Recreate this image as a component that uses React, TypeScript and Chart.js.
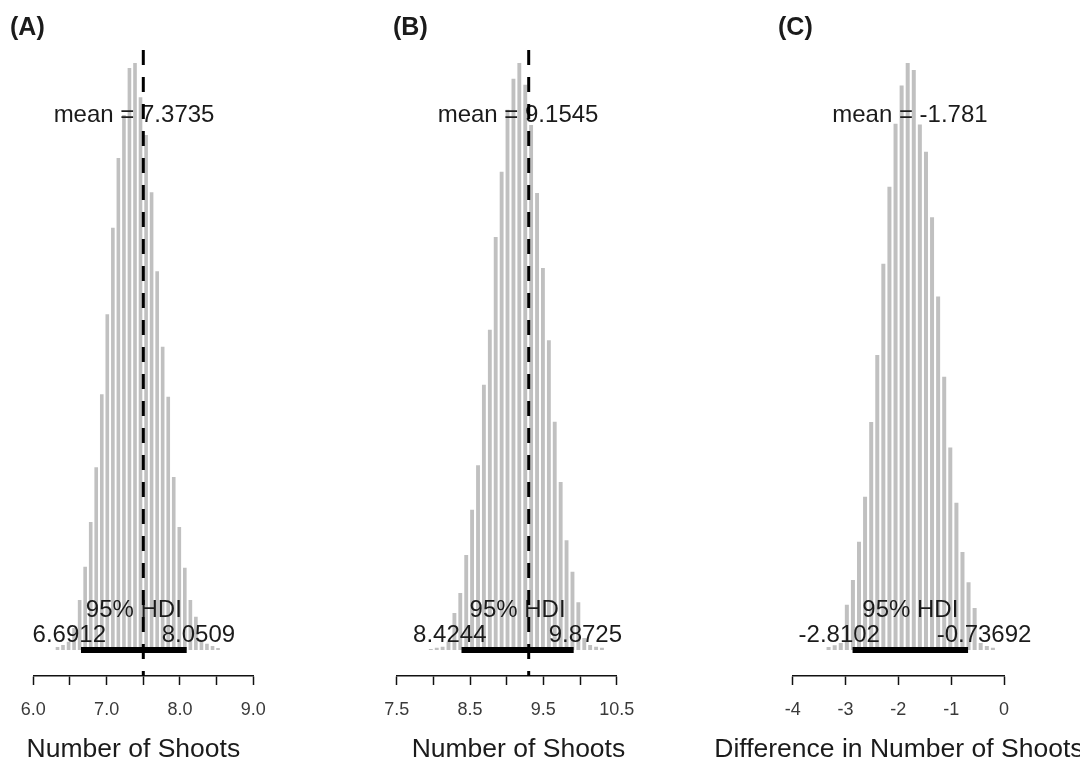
import { useEffect, useRef } from 'react';
import { Chart, registerables } from 'chart.js';

Chart.register(...registerables);

// ---- Posterior of the number of shoots, group A ----
const binsA = [6.330, 6.405, 6.481, 6.556, 6.632, 6.707, 6.783, 6.858, 6.934, 7.009, 7.085, 7.160, 7.236, 7.311, 7.387, 7.462, 7.538, 7.613, 7.689, 7.764, 7.840, 7.915, 7.991, 8.066, 8.142, 8.217, 8.293, 8.368, 8.444, 8.519];
const densityA = [0.006, 0.010, 0.016, 0.043, 0.098, 0.163, 0.251, 0.358, 0.501, 0.658, 0.827, 0.964, 1.048, 1.140, 1.150, 1.083, 1.009, 0.897, 0.742, 0.594, 0.496, 0.339, 0.241, 0.161, 0.098, 0.065, 0.020, 0.012, 0.008, 0.004];
const meanA = 7.3735;
const hdiA = [6.6912, 8.0509];
const refLineA = 7.5;
const tickValuesA = [6.0, 6.5, 7.0, 7.5, 8.0, 8.5, 9.0];
const tickLabelsA = ['6.0', '', '7.0', '', '8.0', '', '9.0'];

// ---- Posterior of the number of shoots, group B ----
const binsB = [7.965, 8.046, 8.126, 8.206, 8.287, 8.367, 8.448, 8.528, 8.609, 8.689, 8.770, 8.850, 8.931, 9.011, 9.092, 9.172, 9.253, 9.333, 9.414, 9.494, 9.575, 9.655, 9.736, 9.816, 9.897, 9.977, 10.058, 10.138, 10.219, 10.299];
const densityB = [0.002, 0.004, 0.006, 0.015, 0.068, 0.105, 0.175, 0.258, 0.340, 0.488, 0.589, 0.760, 0.880, 0.994, 1.051, 1.080, 1.040, 0.966, 0.841, 0.703, 0.570, 0.420, 0.309, 0.202, 0.144, 0.088, 0.022, 0.009, 0.006, 0.004];
const meanB = 9.1545;
const hdiB = [8.4244, 9.8725];
const refLineB = 9.3;
const tickValuesB = [7.5, 8.0, 8.5, 9.0, 9.5, 10.0, 10.5];
const tickLabelsB = ['7.5', '', '8.5', '', '9.5', '', '10.5'];

// ---- Posterior of the difference A - B ----
const binsC = [-3.321, -3.205, -3.090, -2.975, -2.860, -2.745, -2.630, -2.514, -2.399, -2.284, -2.169, -2.053, -1.938, -1.823, -1.708, -1.593, -1.477, -1.362, -1.247, -1.132, -1.017, -0.901, -0.786, -0.671, -0.556, -0.441, -0.325, -0.210];
const densityC = [0.004, 0.006, 0.009, 0.058, 0.090, 0.139, 0.197, 0.293, 0.379, 0.496, 0.595, 0.676, 0.725, 0.754, 0.745, 0.675, 0.640, 0.556, 0.454, 0.351, 0.260, 0.189, 0.126, 0.087, 0.054, 0.009, 0.005, 0.003];
const meanC = -1.781;
const hdiC = [-2.8102, -0.73692];
const tickValuesC = [-4, -3, -2, -1, 0];
const tickLabelsC = ['-4', '-3', '-2', '-1', '0'];

const FONT = '"Liberation Sans", Arial, Helvetica, sans-serif';
const TEXT = '#1b1b1b';
const BAR = 'rgb(192,192,192)';

type Panel = {
  letter: string;
  xTitle: string;
  bins: number[];
  density: number[];
  mean: number;
  hdi: number[];
  refLine: number | null;
  tickValues: number[];
  tickLabels: string[];
  // layout
  left: number;
  width: number;
  axisLeft: number;
  axisRight: number;
  letterX: number;
  titleAt: number;
};

const panels: Panel[] = [
  {
    letter: '(A)', xTitle: 'Number of Shoots', bins: binsA, density: densityA, mean: meanA, hdi: hdiA,
    refLine: refLineA, tickValues: tickValuesA, tickLabels: tickLabelsA,
    left: 0, width: 360, axisLeft: 33.3, axisRight: 253.3, letterX: 10, titleAt: 7.365,
  },
  {
    letter: '(B)', xTitle: 'Number of Shoots', bins: binsB, density: densityB, mean: meanB, hdi: hdiB,
    refLine: refLineB, tickValues: tickValuesB, tickLabels: tickLabelsB,
    left: 360, width: 340, axisLeft: 396.7, axisRight: 616.7, letterX: 393, titleAt: 9.16,
  },
  {
    letter: '(C)', xTitle: 'Difference in Number of Shoots', bins: binsC, density: densityC, mean: meanC, hdi: hdiC,
    refLine: null, tickValues: tickValuesC, tickLabels: tickLabelsC,
    left: 700, width: 400, axisLeft: 792.7, axisRight: 1004, letterX: 778, titleAt: -1.99,
  },
];

const HEIGHT = 764;
const PLOT_TOP = 50;
const AXIS_Y = 676;

function HistPanel({ p }: { p: Panel }) {
  const ref = useRef<HTMLCanvasElement | null>(null);

  useEffect(() => {
    const canvas = ref.current;
    if (!canvas) return;
    const peak = Math.max(...p.density);
    // baseline sits 26px above the axis line, tallest bar reaches 13px below the plot top
    const pxPerUnit = 587 / peak;
    const yMax = (650 - PLOT_TOP) / pxPerUnit;
    const yMin = -(AXIS_Y - 650) / pxPerUnit;
    const xMin = p.tickValues[0];
    const xMax = p.tickValues[p.tickValues.length - 1];

    const datasets: any[] = [
      {
        type: 'bar',
        data: p.bins.map((b, i) => ({ x: b, y: p.density[i] })),
        backgroundColor: BAR,
        borderWidth: 0,
        barPercentage: 0.66,
        categoryPercentage: 1,
        order: 3,
      },
      {
        type: 'line',
        data: [{ x: p.hdi[0], y: 0 }, { x: p.hdi[1], y: 0 }],
        borderColor: '#000',
        borderWidth: 6,
        borderCapStyle: 'square',
        pointRadius: 0,
        order: 2,
      },
    ];
    if (p.refLine !== null) {
      datasets.push({
        type: 'line',
        data: [{ x: p.refLine, y: yMax }, { x: p.refLine, y: yMin }],
        borderColor: '#000',
        borderWidth: 3,
        borderDash: [15, 12],
        borderCapStyle: 'butt',
        pointRadius: 0,
        order: 1,
      });
    }

    const annotate = {
      id: 'annotate',
      afterDatasetDraw(chart: any, args: any) {
        if (args.index !== 0) return;
        const { ctx } = chart;
        const xs = chart.scales.x;
        const ys = chart.scales.y;
        const y0 = ys.getPixelForValue(0);
        ctx.save();
        ctx.fillStyle = TEXT;
        ctx.font = `24px ${FONT}`;
        ctx.textBaseline = 'alphabetic';
        ctx.textAlign = 'center';
        ctx.fillText(`mean = ${p.mean}`, xs.getPixelForValue(p.mean), ys.getPixelForValue(0.9 * peak));
        ctx.fillText('95% HDI', xs.getPixelForValue((p.hdi[0] + p.hdi[1]) / 2), y0 - 33);
        ctx.textAlign = 'left';
        const lo = String(p.hdi[0]);
        const hi = String(p.hdi[1]);
        const wLo = ctx.measureText(lo).width;
        const wHi = ctx.measureText(hi).width;
        ctx.fillText(lo, xs.getPixelForValue(p.hdi[0]) - 0.7 * wLo, y0 - 8);
        ctx.fillText(hi, xs.getPixelForValue(p.hdi[1]) - 0.3 * wHi, y0 - 8);
        ctx.restore();
      },
      afterDraw(chart: any) {
        const { ctx } = chart;
        const xs = chart.scales.x;
        ctx.save();
        ctx.fillStyle = TEXT;
        ctx.textBaseline = 'alphabetic';
        ctx.font = `bold 25px ${FONT}`;
        ctx.textAlign = 'left';
        ctx.fillText(p.letter, p.letterX - p.left, 35);
        ctx.font = `26.5px ${FONT}`;
        ctx.textAlign = 'center';
        ctx.fillText(p.xTitle, xs.getPixelForValue(p.titleAt), 757);
        ctx.restore();
      },
    };

    const chart = new Chart(canvas, {
      type: 'bar',
      data: { datasets },
      options: {
        animation: false,
        responsive: false,
        events: [],
        layout: {
          padding: {
            left: p.axisLeft - p.left,
            right: p.left + p.width - p.axisRight,
            top: PLOT_TOP,
            bottom: 0,
          },
        },
        plugins: { legend: { display: false }, tooltip: { enabled: false }, title: { display: false } },
        scales: {
          x: {
            type: 'linear',
            min: xMin,
            max: xMax,
            offset: false,
            afterBuildTicks: (scale: any) => {
              scale.ticks = p.tickValues.map((v) => ({ value: v }));
            },
            afterFit: (scale: any) => {
              scale.height = HEIGHT - AXIS_Y;
            },
            grid: {
              display: true,
              offset: false,
              drawOnChartArea: false,
              drawTicks: true,
              tickLength: 9,
              tickWidth: 1.5,
              tickColor: '#111',
            },
            border: { display: true, color: '#111', width: 1.5 },
            ticks: {
              autoSkip: false,
              maxRotation: 0,
              padding: 14,
              color: '#3a3a3a',
              font: { family: FONT, size: 18 },
              callback: (_v: any, i: number) => p.tickLabels[i],
            },
          },
          y: {
            type: 'linear',
            display: false,
            min: yMin,
            max: yMax,
          },
        },
      },
      plugins: [annotate],
    });
    return () => chart.destroy();
  }, [p]);

  return (
    <canvas
      ref={ref}
      width={p.width}
      height={HEIGHT}
      style={{ position: 'absolute', left: p.left, top: 0, width: p.width, height: HEIGHT }}
    />
  );
}

export default function App() {
  return (
    <div
      style={{
        position: 'fixed',
        left: 0,
        top: 0,
        width: 1080,
        height: HEIGHT,
        overflow: 'hidden',
        background: '#fff',
      }}
    >
      {panels.map((p) => (
        <HistPanel key={p.letter} p={p} />
      ))}
    </div>
  );
}
